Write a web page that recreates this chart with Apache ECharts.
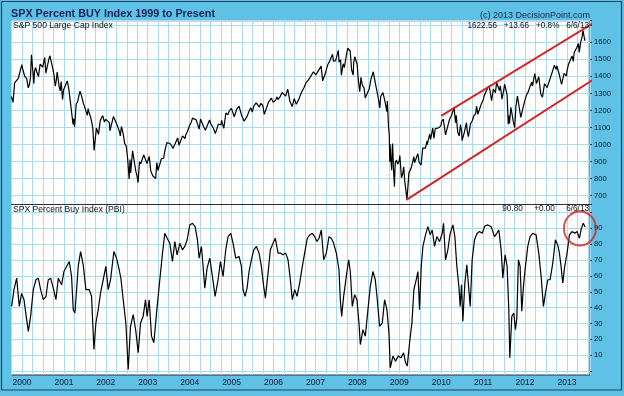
<!DOCTYPE html>
<html><head><meta charset="utf-8">
<script src="https://cdn.jsdelivr.net/npm/echarts@6/dist/echarts.min.js"></script>
<style>html,body{margin:0;padding:0;background:#5ec1e5;}#c{width:624px;height:396px;}</style>
</head><body><div id="c"></div>
<script>
// ---- DATA ----
const spxDates = [
'1999-10-01','1999-10-15','1999-10-29','1999-11-30','1999-12-31','2000-01-14','2000-01-31','2000-02-25','2000-03-24','2000-04-14','2000-04-28','2000-05-24','2000-06-30','2000-07-31','2000-09-01','2000-09-29','2000-10-18','2000-11-03','2000-11-30','2000-12-20','2000-12-29',
'2001-01-30','2001-02-28','2001-03-22','2001-04-04','2001-04-30','2001-05-21','2001-06-29','2001-07-31','2001-08-31','2001-09-10','2001-09-21','2001-10-31','2001-11-30','2001-12-05','2001-12-31',
'2002-01-31','2002-02-20','2002-03-19','2002-04-30','2002-05-31','2002-06-28','2002-07-23','2002-07-31','2002-08-22','2002-09-30','2002-10-09','2002-10-31','2002-11-27','2002-12-31',
'2003-01-14','2003-02-13','2003-03-11','2003-03-21','2003-03-31','2003-04-30','2003-05-30','2003-06-17','2003-07-31','2003-08-29','2003-09-30','2003-10-31','2003-11-28','2003-12-31',
'2004-01-26','2004-02-27','2004-03-24','2004-04-30','2004-05-17','2004-06-30','2004-08-12','2004-09-30','2004-10-25','2004-11-30','2004-12-31',
'2005-01-24','2005-03-07','2005-04-20','2005-05-31','2005-06-30','2005-07-29','2005-08-31','2005-09-30','2005-10-13','2005-11-30','2005-12-30',
'2006-01-31','2006-02-28','2006-03-31','2006-05-05','2006-06-13','2006-06-30','2006-07-18','2006-08-31','2006-09-29','2006-10-31','2006-11-30','2006-12-29',
'2007-01-31','2007-02-20','2007-03-14','2007-04-30','2007-05-31','2007-06-29','2007-07-19','2007-08-15','2007-08-31','2007-09-28','2007-10-09','2007-10-31','2007-11-26','2007-12-10','2007-12-31',
'2008-01-22','2008-02-01','2008-02-29','2008-03-10','2008-04-30','2008-05-19','2008-06-30','2008-07-15','2008-08-11','2008-09-15','2008-09-19','2008-09-29','2008-10-10','2008-10-13','2008-10-27','2008-11-04','2008-11-20','2008-11-28','2008-12-31',
'2009-01-06','2009-01-20','2009-02-09','2009-02-27','2009-03-09','2009-03-26','2009-04-30','2009-05-08','2009-06-12','2009-07-10','2009-07-31','2009-08-31','2009-09-23','2009-10-19','2009-10-30','2009-11-30','2009-12-31',
'2010-01-19','2010-02-08','2010-03-31','2010-04-23','2010-05-25','2010-06-18','2010-07-02','2010-08-09','2010-08-26','2010-09-30','2010-10-29','2010-11-16','2010-12-31',
'2011-01-31','2011-02-18','2011-03-16','2011-04-29','2011-05-31','2011-06-15','2011-07-07','2011-08-08','2011-08-31','2011-09-22','2011-10-03','2011-10-27','2011-11-25','2011-12-30',
'2012-01-31','2012-02-29','2012-04-02','2012-04-30','2012-06-01','2012-06-29','2012-07-24','2012-08-31','2012-09-14','2012-10-31','2012-11-15','2012-12-31',
'2013-01-31','2013-02-25','2013-03-28','2013-04-18','2013-04-30','2013-05-21','2013-05-31','2013-06-05','2013-06-06',
// intermediate readings
'2000-01-03','2000-01-24','2000-02-11','2000-03-07','2000-03-15','2000-04-07','2000-04-19','2000-05-12','2000-06-07','2000-07-17','2000-07-28','2000-08-25','2000-10-06','2000-10-27','2000-11-20','2000-12-08','2000-12-15',
'2001-01-10','2001-02-12','2001-03-09','2001-03-28','2001-04-18','2001-06-05','2001-06-20','2001-07-24','2001-08-06','2001-08-20','2001-10-11','2001-10-29','2001-11-14','2001-12-20',
'2002-01-11','2002-02-06','2002-03-08','2002-04-05','2002-05-07','2002-05-17','2002-06-14','2002-07-10','2002-08-05','2002-09-19','2002-10-21','2002-11-13','2002-12-02','2002-12-26',
'2003-01-27','2003-05-20','2003-07-14','2003-08-08','2003-09-18','2003-11-21','2003-12-12',
'2004-01-14','2004-02-11','2004-03-09','2004-04-05','2004-06-23','2004-07-01','2004-07-27','2004-09-08','2004-10-06','2004-11-12','2004-12-13',
'2005-01-03','2005-02-14','2005-03-28','2005-05-16','2005-06-17','2005-07-15','2005-08-03','2005-09-12','2005-10-21','2005-11-18','2005-12-14',
'2006-01-20','2006-02-09','2006-03-16','2006-04-17','2006-05-23','2006-07-05','2006-08-09','2006-09-25','2006-10-13','2006-11-14','2006-12-15',
'2007-01-05','2007-03-05','2007-03-28','2007-04-19','2007-05-30','2007-06-07','2007-06-26','2007-07-26','2007-08-08','2007-09-10','2007-11-12','2007-11-30',
'2008-01-08','2008-01-31','2008-02-14','2008-03-17','2008-04-14','2008-06-06','2008-07-23','2008-08-25','2008-10-06','2008-10-17','2008-10-31','2008-11-12','2008-11-24','2008-12-08','2008-12-18',
'2009-01-30','2009-02-17','2009-04-02','2009-04-16','2009-05-14','2009-06-23','2009-07-24','2009-08-17','2009-09-01','2009-10-01','2009-11-10','2009-11-26','2009-12-18',
'2010-01-04','2010-02-25','2010-03-16','2010-04-02','2010-05-06','2010-05-12','2010-06-07','2010-06-28','2010-07-21','2010-08-16','2010-09-13','2010-10-12','2010-11-05','2010-11-26','2010-12-15',
'2011-01-14','2011-02-28','2011-03-31','2011-04-18','2011-05-23','2011-06-30','2011-07-22','2011-07-29','2011-08-11','2011-08-19','2011-09-16','2011-10-14','2011-11-08','2011-12-16',
'2012-01-13','2012-02-15','2012-03-06','2012-03-26','2012-04-10','2012-05-01','2012-05-18','2012-06-19','2012-07-12','2012-08-16','2012-09-28','2012-10-05','2012-10-26','2012-12-07','2012-12-28',
'2013-01-14','2013-02-15','2013-03-05','2013-04-11','2013-05-13'];
const spxValues = [
1282,1247,1362,1389,1469,1465,1394,1333,1527,1357,1452,1399,1455,1431,1521,1437,1342,1426,1315,1265,1320,
1373,1240,1118,1103,1250,1313,1224,1211,1134,1093,966,1060,1139,1170,1148,
1130,1084,1170,1077,1067,990,798,912,963,815,777,886,939,880,
931,817,801,895,848,917,964,1011,990,1008,996,1051,1058,1112,
1155,1145,1091,1107,1084,1141,1064,1115,1095,1174,1212,
1163,1225,1137,1192,1191,1234,1220,1229,1177,1250,1248,
1280,1281,1295,1325,1223,1270,1236,1304,1336,1378,1401,1418,
1438,1460,1378,1482,1531,1503,1553,1407,1474,1527,1565,1549,1407,1515,1468,
1310,1395,1331,1273,1386,1427,1280,1215,1305,1193,1255,1106,899,1003,849,1006,752,896,903,
935,805,870,735,677,833,873,929,946,879,987,1021,1061,1097,1036,1096,1115,
1150,1057,1169,1217,1074,1117,1023,1128,1047,1141,1183,1178,1258,
1286,1343,1257,1364,1345,1266,1354,1119,1219,1130,1099,1285,1159,1258,
1312,1366,1419,1398,1278,1362,1338,1407,1466,1412,1353,1426,
1498,1488,1569,1541,1598,1669,1631,1609,1623,
1455,1401,1387,1355,1392,1516,1427,1421,1471,1510,1419,1507,1408,1379,1342,1369,1312,
1313,1330,1233,1153,1238,1283,1240,1171,1193,1164,1097,1060,1142,1132,
1146,1081,1164,1122,1050,1106,1007,920,834,844,899,882,935,889,
847,920,1006,977,1039,1035,1075,
1130,1157,1141,1150,1144,1125,1094,1121,1142,1185,1199,
1202,1206,1174,1165,1216,1228,1245,1241,1179,1248,1272,
1261,1264,1306,1285,1256,1270,1265,1336,1365,1393,1427,
1409,1374,1417,1470,1530,1490,1492,1483,1497,1451,1439,1481,
1390,1379,1348,1276,1328,1360,1282,1266,1056,940,969,853,851,909,885,
826,789,834,865,893,895,979,979,998,1030,1093,1100,1102,
1133,1102,1150,1178,1128,1171,1050,1074,1070,1079,1121,1169,1225,1189,1236,
1293,1327,1326,1305,1317,1321,1345,1292,1172,1124,1216,1224,1276,1220,
1289,1344,1343,1417,1358,1405,1295,1357,1334,1405,1441,1461,1411,1418,1402,
1470,1520,1540,1593,1633];

const pbiYears = [
1999.754,1999.809,1999.873,1999.936,1999.992,2000.048,2000.095,2000.151,2000.206,2000.270,2000.334,2000.389,2000.445,2000.508,2000.572,2000.627,2000.683,2000.747,2000.810,2000.866,2000.945,
2001.001,2001.064,2001.128,2001.183,2001.223,2001.263,2001.342,2001.398,2001.461,2001.525,2001.604,2001.660,2001.716,2001.763,2001.819,2001.874,2001.938,
2002.001,2002.057,2002.113,2002.192,2002.256,2002.319,2002.359,2002.415,2002.478,2002.534,2002.589,2002.653,2002.716,2002.772,2002.828,2002.891,2002.947,2002.986,
2003.034,2003.090,2003.145,2003.185,2003.225,2003.288,2003.352,2003.407,2003.463,2003.527,2003.590,2003.646,2003.701,2003.765,2003.828,2003.884,2003.940,
2004.003,2004.067,2004.130,2004.186,2004.225,2004.281,2004.321,2004.361,2004.416,2004.480,2004.543,2004.607,2004.678,2004.734,2004.797,2004.861,2004.916,2004.980,
2005.036,2005.099,2005.179,2005.234,2005.274,2005.322,2005.369,2005.417,2005.473,2005.528,2005.592,2005.655,2005.711,2005.766,2005.806,2005.870,2005.925,2005.989,
2006.044,2006.108,2006.163,2006.227,2006.291,2006.346,2006.402,2006.449,2006.505,2006.561,2006.624,2006.688,2006.743,2006.807,2006.863,2006.927,2006.982,
2007.038,2007.086,2007.141,2007.197,2007.260,2007.324,2007.380,2007.435,2007.499,2007.562,2007.594,2007.626,2007.673,2007.737,2007.793,2007.832,2007.880,2007.936,2007.991,
2008.039,2008.071,2008.134,2008.190,2008.253,2008.309,2008.372,2008.428,2008.476,2008.531,2008.595,2008.650,2008.706,2008.754,2008.785,2008.849,2008.912,2008.976,
2009.040,2009.103,2009.151,2009.191,2009.246,2009.302,2009.349,2009.405,2009.445,2009.484,2009.524,2009.564,2009.627,2009.683,2009.739,2009.786,2009.842,2009.897,2009.961,
2010.025,2010.056,2010.104,2010.160,2010.215,2010.279,2010.326,2010.374,2010.422,2010.453,2010.485,2010.517,2010.565,2010.612,2010.660,2010.692,2010.739,2010.795,2010.858,2010.914,2010.978,
2011.041,2011.113,2011.192,2011.272,2011.327,2011.375,2011.430,2011.470,2011.526,2011.573,2011.613,2011.637,2011.685,2011.732,2011.772,2011.804,2011.843,2011.883,2011.923,2011.962,
2012.010,2012.066,2012.121,2012.185,2012.264,2012.328,2012.384,2012.439,2012.487,2012.543,2012.598,2012.662,2012.725,2012.781,2012.820,2012.860,2012.900,2012.947,
2013.003,2013.059,2013.122,2013.186,2013.241,2013.297,2013.345,2013.392,2013.432];
const pbiValues = [
40.8,51.3,58.6,40.8,49,45,35.6,25,34.5,51.3,57.6,58.6,51.3,45,47,57.6,58.6,52.3,45,58.6,54.4,
62.8,66,69.1,59.7,38.7,36.6,66,75.4,67,51.3,51.3,47.1,13.6,30.3,38.7,49.2,57.6,
66,51.3,57.6,75.4,71.2,63.9,58.6,45,30.3,0.9,28.2,35.6,25.1,11.5,30.3,34.5,45,34.5,
45,22,17.8,16.7,40.8,57.6,74.4,86.9,83.8,80.6,69.1,81.7,73.3,80.6,76.5,78.6,82.8,
92.2,93.2,91.1,82.8,71.2,78.6,66,52.3,64.9,71.2,59.7,47.1,57.6,69.1,59.7,76.5,84.8,86.9,
80.6,71.2,72.3,66,51.3,47.1,52.3,62.8,70.2,76.5,78.6,74.4,66,53.4,46,61.8,76.5,80.6,
83.8,74.4,74.4,73.3,74.4,70.2,57.6,45,51.3,47.1,55.5,66,74.4,83.8,85.9,86.9,84.8,
81.7,83.8,89,70.2,74.4,84.8,83.8,80.6,74.4,63.9,45,34.5,47.1,59.7,70.2,62.8,40.8,48.2,45,
30.3,16.7,26.1,21.9,38.7,53.4,62.8,57.6,45,28.2,30.3,45,38.7,24,2,9.4,6.2,9.4,
8.3,11.5,5.2,3.1,17.8,30.3,51.3,57.6,62.8,38.7,66,78.6,85.9,91.1,85.9,89,78.6,84.8,81.7,
86.9,93.2,70.2,76.5,86.9,92.2,84.8,66,53.4,40.8,54.4,31.4,55.5,67,51.3,40.8,70.2,82.8,86.9,88,86.9,
91.5,92.2,91.1,84.8,86.9,89,76.5,58.6,73.3,66,38.7,8.3,34.5,36.6,26.1,33.5,70.2,66,37.7,53.4,
66,78.6,84.8,86.9,85.9,74.4,59.7,40.8,49.2,57.6,57.6,68.1,82.8,79.6,74.4,66,55.5,66,
74.4,85.9,88,86.9,88,83.8,90.1,93.2,90.8];

const yearLabels = [2000,2001,2002,2003,2004,2005,2006,2007,2008,2009,2010,2011,2012,2013];
const spxTickLabels = [700,800,900,1000,1100,1200,1300,1400,1500,1600];
const pbiTickLabels = [10,20,30,40,50,60,70,80,90];
// red annotation lines (channel) and circle
const upperChannelYears = [2010.00, 2013.82];
const upperChannelValues = [1168, 1741];
const lowerChannelYears = [2009.17, 2014.29];
const lowerChannelValues = [675, 1486];
const circleYear = [2013.31];
const circleValue = [90];
// text
const titleText = 'SPX Percent BUY Index 1999 to Present';
const copyrightText = '(c) 2013 DecisionPoint.com';
const spxLabel = 'S&P 500 Large Cap Index';
const spxStatus = '1622.56   +13.66   +0.8%   6/6/13';
const pbiLabel = 'SPX Percent Buy Index (PBI)';
const pbiStatus = '90.80     +0.00     6/6/13';

// ---- helpers ----
function decYear(s){const p=s.split('-').map(Number);const t=Date.UTC(p[0],p[1]-1,p[2]),a=Date.UTC(p[0],0,1),b=Date.UTC(p[0]+1,0,1);return p[0]+(t-a)/(b-a);}
const zip=(xs,ys)=>xs.map((x,i)=>[x,ys[i]]);
const spxData = zip(spxDates.map(decYear), spxValues).sort((a,b)=>a[0]-b[0]);
const pbiData = zip(pbiYears, pbiValues);

const FONT = 'Arial, "Liberation Sans", sans-serif';
const GRIDC = '#a9dcf0';
const TXT = '#101830';
const XMIN = 1999.75, XMAX = 2013.55;
const L = 11.5, R = 34;

const chart = echarts.init(document.getElementById('c'), null, {renderer:'canvas'});
const hiddenX = (gi, extra) => Object.assign({type:'value', gridIndex:gi, min:XMIN, max:XMAX, interval:0.25,
  axisLine:{show:false}, axisTick:{show:false}, axisLabel:{show:false}, splitLine:{show:false}}, extra||{});

chart.setOption({
  animation:false,
  backgroundColor:'#5ec1e5',
  textStyle:{fontFamily:FONT},
  title:[
    {text:titleText, left:11, top:9, padding:0, textStyle:{fontSize:10.8, fontWeight:'bold', color:'#142458', fontFamily:FONT}},
    {text:copyrightText, right:34, top:11, padding:0, textStyle:{fontSize:9, fontWeight:'normal', color:'#142458', fontFamily:FONT}},
    {text:spxLabel, left:13, top:21.5, padding:0, textStyle:{fontSize:8.6, fontWeight:'normal', color:'#111', fontFamily:FONT}},
    {text:spxStatus, right:35, top:21.5, padding:0, textStyle:{fontSize:8.2, fontWeight:'normal', color:'#111', fontFamily:FONT}},
    {text:pbiLabel, left:13, top:205, padding:0, textStyle:{fontSize:8.6, fontWeight:'normal', color:'#111', fontFamily:FONT}},
    {text:pbiStatus, right:35, top:205, padding:0, textStyle:{fontSize:8.2, fontWeight:'normal', color:'#111', fontFamily:FONT}}
  ],
  grid:[
    {left:L, right:R, top:20.7, bottom:21, show:true, backgroundColor:'#ffffff', borderColor:'#2c2c3c', borderWidth:1, z:0},
    {left:L, right:R, top:20.7, height:175},
    {left:L, right:R, top:204, height:167}
  ],
  xAxis:[
    {type:'value', gridIndex:0, min:XMIN, max:XMAX, interval:0.25,
     axisLine:{show:false}, axisTick:{show:false},
     splitLine:{show:true, lineStyle:{color:GRIDC, width:1}},
     axisLabel:{show:true, margin:3, fontSize:8.5, color:TXT, fontFamily:FONT,
       formatter:v=>{const r=Math.round(v);return (Math.abs(v-r)<1e-6 && yearLabels.indexOf(r)>=0)?String(r):'';}}},
    hiddenX(1),
    hiddenX(2, {position:'top', axisLine:{show:true, onZero:false, lineStyle:{color:'#2c2c3c', width:1}}})
  ],
  yAxis:[
    {type:'value', gridIndex:0, min:0, max:1, show:false},
    {type:'value', gridIndex:1, position:'right', min:700, max:1726.7, interval:100,
     axisLine:{show:false}, axisTick:{show:true, length:2, lineStyle:{color:'#2c2c3c'}},
     splitLine:{show:true, lineStyle:{color:GRIDC, width:1}},
     axisLabel:{margin:4, fontSize:7.6, color:TXT, fontFamily:FONT,
       formatter:v=>spxTickLabels.indexOf(Math.round(v))>=0 && Math.abs(v-Math.round(v))<1e-6 ? String(Math.round(v)) : ''}},
    {type:'value', gridIndex:2, position:'right', min:0, max:105.4, interval:10,
     axisLine:{show:false}, axisTick:{show:true, length:2, lineStyle:{color:'#2c2c3c'}},
     splitLine:{show:true, lineStyle:{color:GRIDC, width:1}},
     axisLabel:{margin:4, fontSize:7.6, color:TXT, fontFamily:FONT,
       formatter:v=>pbiTickLabels.indexOf(Math.round(v))>=0 && Math.abs(v-Math.round(v))<1e-6 ? String(Math.round(v)) : ''}}
  ],
  series:[
    {type:'line', xAxisIndex:1, yAxisIndex:1, data:spxData, showSymbol:false, clip:false, silent:true,
     lineStyle:{color:'#000', width:1.2}, z:3},
    {type:'line', xAxisIndex:2, yAxisIndex:2, data:pbiData, showSymbol:false, clip:false, silent:true,
     lineStyle:{color:'#000', width:1.2}, z:3},
    {type:'line', xAxisIndex:1, yAxisIndex:1, data:zip(upperChannelYears, upperChannelValues), showSymbol:false, clip:false, silent:true,
     lineStyle:{color:'#d42424', width:2}, z:5},
    {type:'line', xAxisIndex:1, yAxisIndex:1, data:zip(lowerChannelYears, lowerChannelValues), showSymbol:false, clip:false, silent:true,
     lineStyle:{color:'#d42424', width:2}, z:5},
    {type:'scatter', xAxisIndex:2, yAxisIndex:2, data:zip(circleYear, circleValue), symbol:'circle', symbolSize:[32,34], clip:false, silent:true,
     itemStyle:{color:'rgba(0,0,0,0)', borderColor:'#d42424', borderWidth:2}, z:5}
  ],
  graphic:[
    {type:'rect', silent:true, z:100, shape:{x:1.5, y:1.5, width:620, height:388.5},
     style:{fill:null, stroke:'#23405e', lineWidth:1.2}}
  ]
});
</script></body></html>
